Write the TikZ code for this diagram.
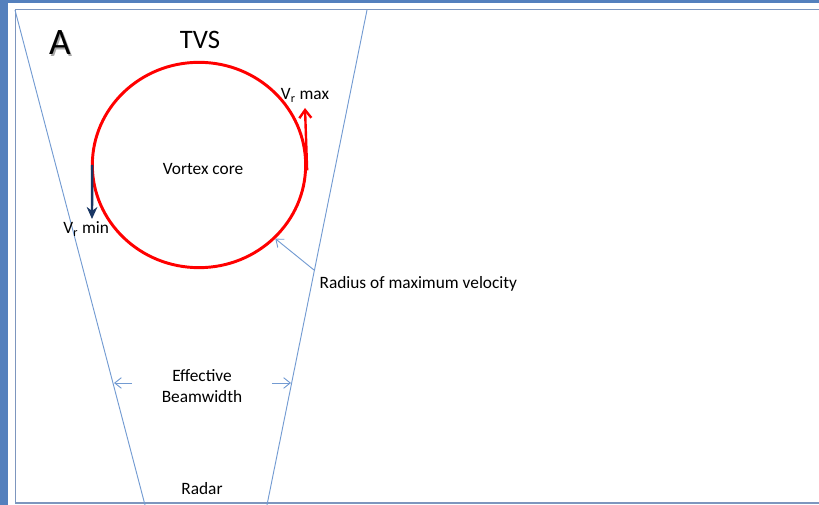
\documentclass[tikz,border=0pt]{standalone}
\usepackage{fontspec}
\setmainfont{Carlito}
\usepackage{tikz}
\usetikzlibrary{arrows.meta,shapes.geometric,positioning,calc}
\definecolor{slideblue}{RGB}{84,128,189}
\definecolor{framegray}{RGB}{125,150,190}
\definecolor{beamblue}{RGB}{115,155,210}
\definecolor{vortred}{RGB}{255,0,0}
\definecolor{navy}{RGB}{25,55,100}

\begin{document}
\begin{tikzpicture}[
  x=0.75pt, y=-0.75pt,
  lbl/.style={font=\fontsize{13}{15.5}\selectfont, inner sep=1pt, align=center},
  beam/.style={draw=beamblue, line width=0.7pt},
  ptr/.style={draw=beamblue, line width=0.7pt, -{Straight Barb[length=5pt,width=8pt]}},
  core/.style={ellipse, draw=vortred, line width=2.2pt, minimum width=160pt,
               minimum height=154pt, inner sep=0pt},
  vmax/.style={draw=vortred, line width=1.8pt, -{Straight Barb[length=6pt,width=9pt]}},
  vmin/.style={draw=navy, line width=1.8pt, -{Stealth[length=9pt,width=8pt]}},
  big/.style={font=\fontsize{28}{30}\selectfont, inner sep=0pt},
]
\useasboundingbox (0,0) rectangle (819,505);

% slide frame
\fill[slideblue] (0,0) rectangle (8,505);
\fill[slideblue] (0,0) rectangle (819,3);
\draw[framegray, line width=1.3pt] (15.5,9.5) rectangle (830,503);

% beam edges
\coordinate (ltop) at (15,10);
\coordinate (lbot) at (145,505);
\coordinate (rtop) at (367,10);
\coordinate (rbot) at (267,505);
\draw[beam] (ltop) -- (lbot);
\draw[beam] (rtop) -- (rbot);

% titles
\node[big, text=black!35] (panelshadow) at (61.5,44.5) {A};
\node[big] (panel) at (60,43) {A};
\node[font=\fontsize{20}{22}\selectfont, inner sep=0pt] (tvs) at (200,40) {TVS};

% vortex core
\node[core] (vc) at (199,165) {};
\node[lbl] (vclab) at (203,169) {Vortex core};

% velocity arrows
\coordinate (maxtip) at (305,108);
\coordinate (mintip) at (92,219);
\draw[vmax] ([yshift=-4pt]vc.east) -- (maxtip);
\draw[vmin] ([xshift=1pt]vc.west) -- (mintip);
\node[lbl, above=3pt of maxtip] (vmaxlab) {V\textsubscript{r} max};
\node[lbl, below left=1pt and -14pt of mintip] (vminlab) {V\textsubscript{r} min};

% radius of maximum velocity
\coordinate (rmvfoot) at (314,270);
\draw[ptr] (rmvfoot) -- (vc.-44);
\node[lbl, anchor=west] (rmvlab) at (318,284) {Radius of maximum velocity};

% effective beamwidth
\node[lbl, inner xsep=22pt] (ebw) at (202,386) {Effective\\Beamwidth};
\coordinate (lbw) at (114,383);
\coordinate (rbw) at (291,383);
\draw[ptr] (ebw.west |- lbw) -- (lbw);
\draw[ptr] (ebw.east |- rbw) -- (rbw);

% radar
\node[lbl] (radar) at (202,489) {Radar};
\end{tikzpicture}
\end{document}
